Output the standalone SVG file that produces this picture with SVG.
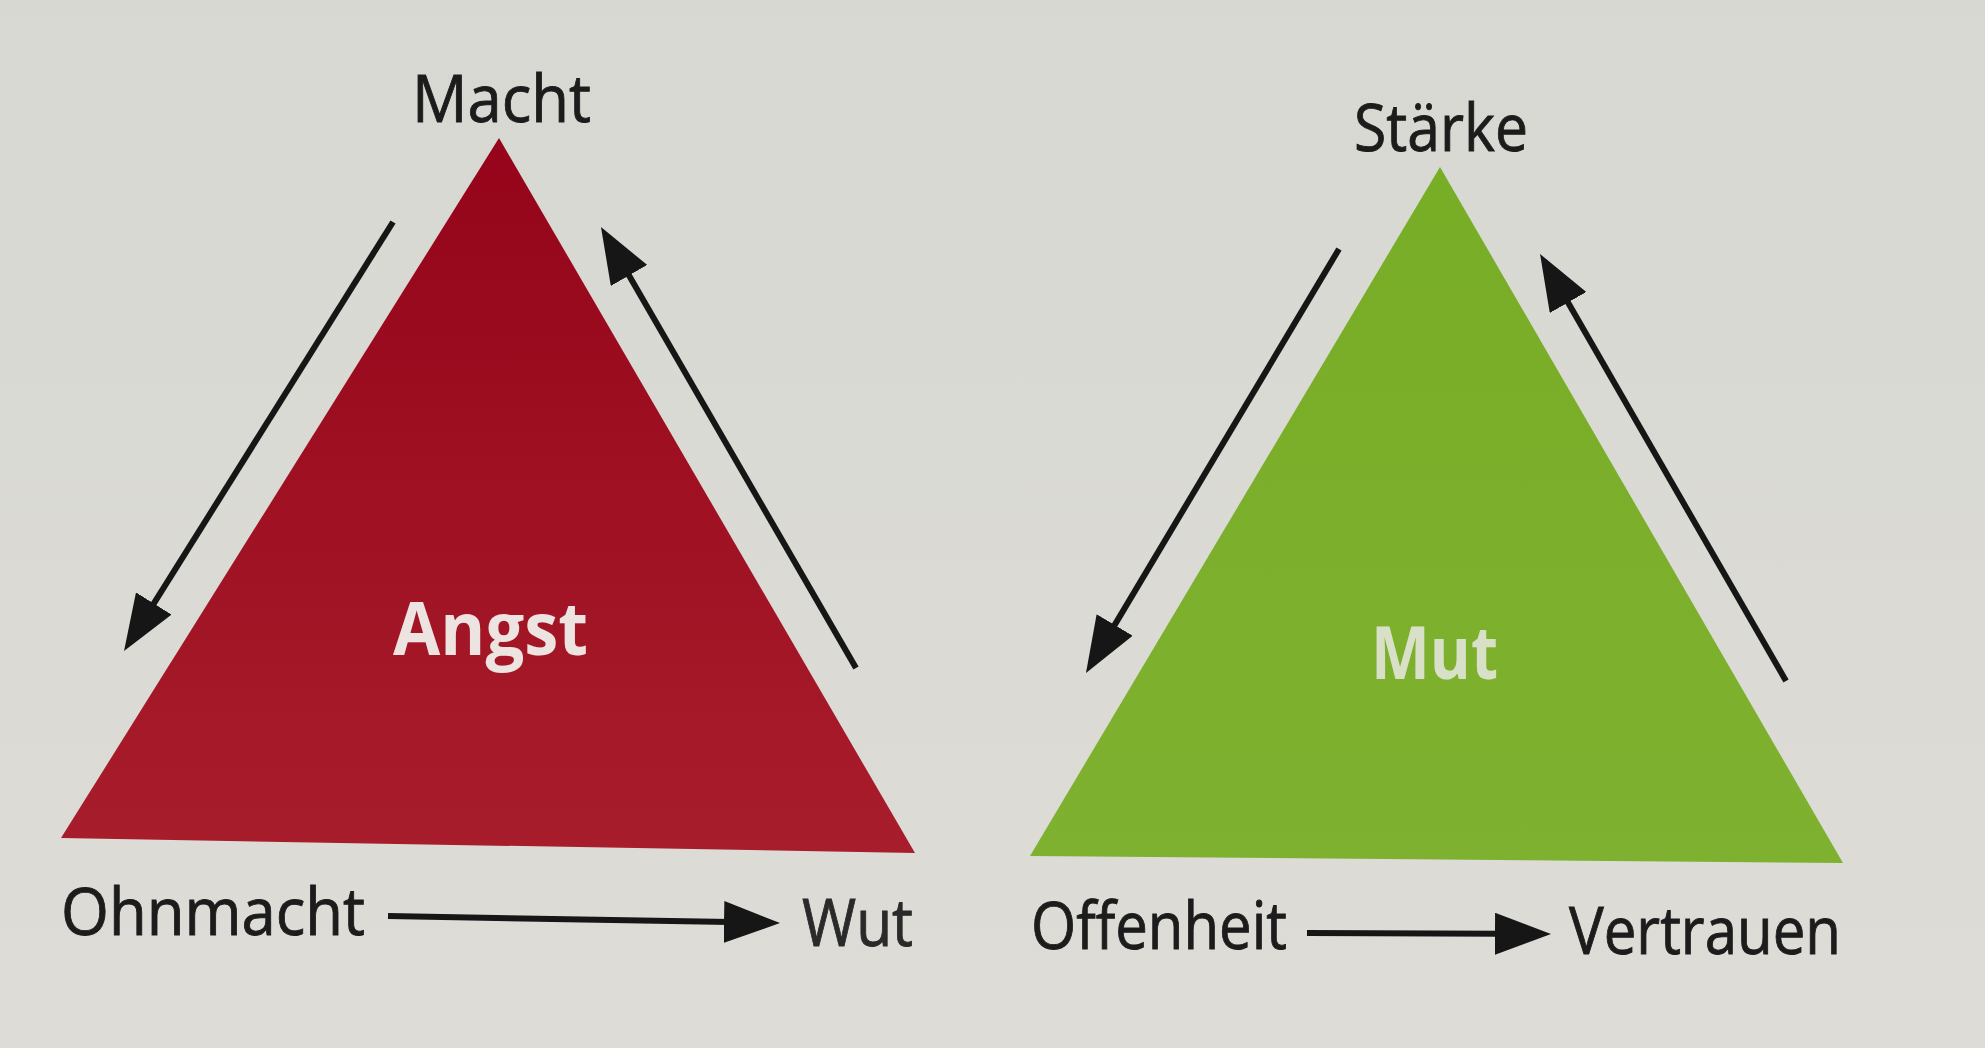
<svg xmlns="http://www.w3.org/2000/svg" width="1985" height="1048" viewBox="0 0 1985 1048">
  <style>
    .lbl { font-family: "Open Sans", "Noto Sans", "Liberation Sans", sans-serif; font-size: 66px; fill: #1c1c1c; stroke: #1c1c1c; stroke-width: 0.9; }
    .inner { font-family: "Open Sans", "Noto Sans", "Liberation Sans", sans-serif; font-size: 74px; font-weight: bold; }
    .conn { stroke: #161616; stroke-width: 6; fill: none; marker-end: url(#arrow); }
  </style>
  <defs>
    <linearGradient id="bg" x1="0" y1="0" x2="0" y2="1">
      <stop offset="0" stop-color="#d8d8d3"/>
      <stop offset="1" stop-color="#dddcd7"/>
    </linearGradient>
    <linearGradient id="redFill" x1="0" y1="0" x2="0" y2="1">
      <stop offset="0" stop-color="#95041a"/>
      <stop offset="1" stop-color="#a81d2b"/>
    </linearGradient>
    <linearGradient id="greenFill" x1="0" y1="0" x2="0" y2="1">
      <stop offset="0" stop-color="#78ad26"/>
      <stop offset="1" stop-color="#7fb130"/>
    </linearGradient>
    <marker id="arrow" markerUnits="userSpaceOnUse" viewBox="0 0 56 42" markerWidth="56" markerHeight="42" refX="6" refY="21" orient="auto">
      <path d="M0,0 L56,21 L0,42 z" fill="#161616"/>
    </marker>
  </defs>

  <rect x="0" y="0" width="1985" height="1048" fill="url(#bg)"/>

  <g id="node-angst">
    <polygon points="499,138 61,838 915,853" fill="url(#redFill)"/>
    <text class="inner" x="393" y="655" textLength="195" lengthAdjust="spacingAndGlyphs" fill="#ede3e1">Angst</text>
  </g>
  <g id="node-mut">
    <polygon points="1440,167 1030,856 1843,863" fill="url(#greenFill)"/>
    <text class="inner" x="1371" y="679" textLength="127" lengthAdjust="spacingAndGlyphs" fill="#d9e0c8">Mut</text>
  </g>

  <g id="node-macht"><text class="lbl" x="412" y="122" textLength="179" lengthAdjust="spacingAndGlyphs">Macht</text></g>
  <g id="node-ohnmacht"><text class="lbl" x="61" y="935" textLength="304" lengthAdjust="spacingAndGlyphs">Ohnmacht</text></g>
  <g id="node-wut"><text class="lbl" x="802" y="946" textLength="111" lengthAdjust="spacingAndGlyphs" style="fill:#2a2a2a;stroke:#2a2a2a">Wut</text></g>
  <g id="node-staerke"><text class="lbl" x="1354" y="151" textLength="174" lengthAdjust="spacingAndGlyphs">Stärke</text></g>
  <g id="node-offenheit"><text class="lbl" x="1031" y="949" textLength="256" lengthAdjust="spacingAndGlyphs">Offenheit</text></g>
  <g id="node-vertrauen"><text class="lbl" x="1569" y="954" textLength="272" lengthAdjust="spacingAndGlyphs">Vertrauen</text></g>

  <g id="connectors">
    <line class="conn" x1="393" y1="222" x2="150.6" y2="608.6"/>
    <line class="conn" x1="856" y1="668" x2="626" y2="270.3"/>
    <line class="conn" x1="388" y1="916" x2="730" y2="922.1"/>
    <line class="conn" x1="1339" y1="249" x2="1111.6" y2="630.1"/>
    <line class="conn" x1="1786" y1="681" x2="1565" y2="297.3"/>
    <line class="conn" x1="1307" y1="933" x2="1501" y2="933.8"/>
  </g>
</svg>
